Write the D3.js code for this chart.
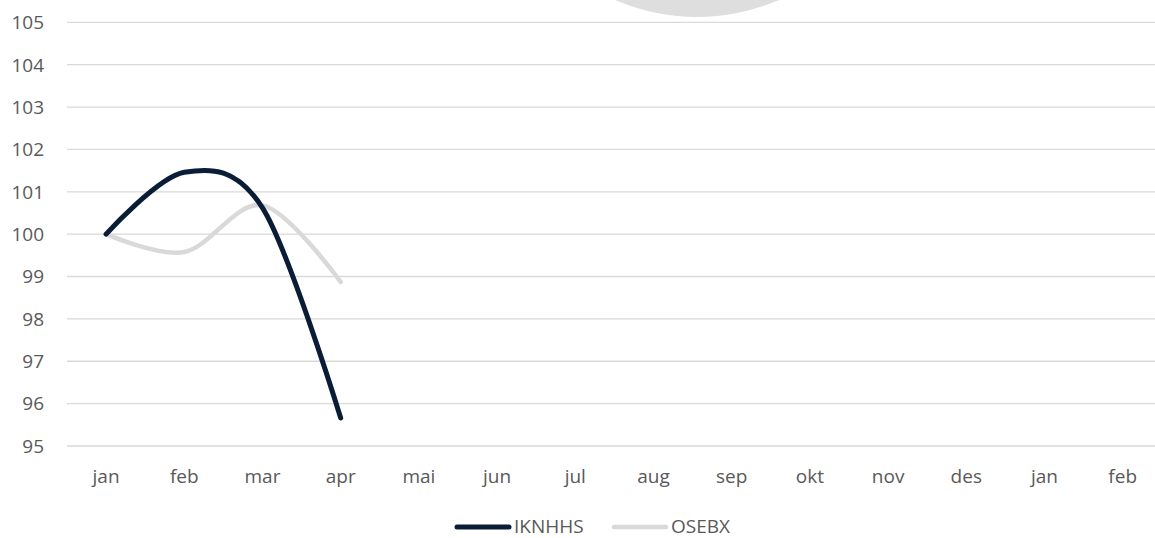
<!DOCTYPE html>
<html><head><meta charset="utf-8">
<script src="https://cdn.jsdelivr.net/npm/d3@7"></script>
<style>body{margin:0;background:#fff}svg{display:block}text{font-family:"Open Sans",sans-serif;fill:#595959}</style>
</head><body>
<svg id="c" width="1155" height="538"></svg>
<script>
const months = ["jan","feb","mar","apr","mai","jun","jul","aug","sep","okt","nov","des","jan","feb"];
const yTicks = [95,96,97,98,99,100,101,102,103,104,105];
const ikValues = [100, 101.46, 100.62, 95.66];
const osValues = [100, 99.58, 100.68, 98.87];
const seriesNames = ["IKNHHS","OSEBX"];
const seriesColors = ["#0b1d36","#d9d9d9"];

const svg = d3.select("#c");
const W = 1155, H = 538;
const x = d3.scaleBand().domain(d3.range(months.length)).range([67, 67+14*78.2]);
const y = d3.scaleLinear().domain([95,105]).range([446, 22.3]);

// decorative circle at top
svg.append("circle").attr("cx",697).attr("cy",-189).attr("r",206).attr("fill","#dedede");

// gridlines
svg.append("g").selectAll("line").data(yTicks).join("line")
  .attr("x1",67).attr("x2",W).attr("y1",d=>y(d)).attr("y2",d=>y(d))
  .attr("stroke","#d9d9d9").attr("stroke-width",1.3);

// y labels
svg.append("g").selectAll("text").data(yTicks).join("text")
  .attr("x",44).attr("y",d=>y(d)).attr("dy","0.36em").attr("text-anchor","end")
  .attr("font-size",19).text(d=>d);

// x labels
svg.append("g").selectAll("text").data(months).join("text")
  .attr("x",(d,i)=>x(i)+x.bandwidth()/2).attr("y",483).attr("text-anchor","middle")
  .attr("font-size",19).text(d=>d);

const line = d3.line().x((d,i)=>x(i)+x.bandwidth()/2).y(d=>y(d)).curve(d3.curveCatmullRom.alpha(0));
svg.append("path").datum(osValues).attr("d",line).attr("fill","none")
  .attr("stroke",seriesColors[1]).attr("stroke-width",4.5).attr("stroke-linecap","round");
svg.append("path").datum(ikValues).attr("d",line).attr("fill","none")
  .attr("stroke",seriesColors[0]).attr("stroke-width",5).attr("stroke-linecap","round");

// legend
const lg = [{x1:457,x2:509,tx:514},{x1:614,x2:666,tx:671}];
lg.forEach((l,i)=>{
  svg.append("line").attr("x1",l.x1).attr("x2",l.x2).attr("y1",527).attr("y2",527)
    .attr("stroke",seriesColors[i]).attr("stroke-width",i?4.5:5).attr("stroke-linecap","round");
  svg.append("text").attr("x",l.tx).attr("y",533).attr("font-size",19).text(seriesNames[i]);
});
</script>
</body></html>
